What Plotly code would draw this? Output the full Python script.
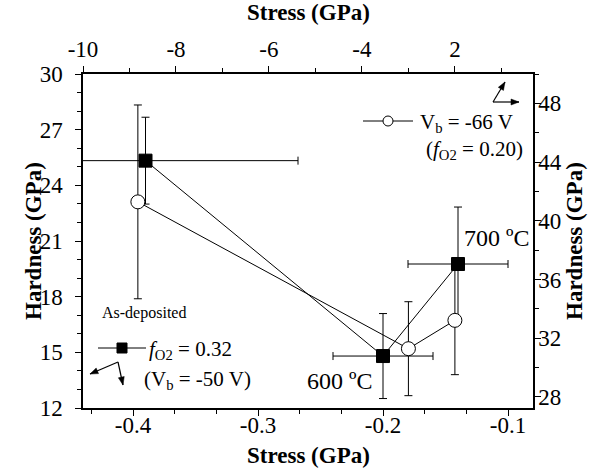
import math
import plotly.graph_objects as go

# Series 1: f_O2 = 0.32 (V_b = -50 V)  -> bottom x (stress), left y (hardness)
stress_a = [-0.39, -0.20, -0.14]
hard_a = [25.33, 14.80, 19.76]
hard_a_err = [2.34, 2.29, 3.07]
stress_a_err = [0.122, 0.04, 0.04]

# Series 2: V_b = -66 V (f_O2 = 0.20) -> top x (stress), right y (hardness)
stress_b = [-8.82, -3.0, -2.0]
hard_b = [41.29, 31.29, 33.22]
hard_b_err = [6.6, 3.2, 3.7]

bottom_ticks = [-0.4, -0.3, -0.2, -0.1]
bottom_ticktext = ["-0.4", "-0.3", "-0.2", "-0.1"]
top_ticks = [-10, -8, -6, -4, -2]
top_ticktext = ["-10", "-8", "-6", "-4", "2"]
left_ticks = [12, 15, 18, 21, 24, 27, 30]
right_ticks = [28, 32, 36, 40, 44, 48]

FONT = "'Liberation Serif', 'Times New Roman', Times, serif"
TICKF = dict(family=FONT, size=23, color="black")
TITLEF = dict(family=FONT, size=23, color="black")

fig = go.Figure()

fig.add_trace(go.Scatter(
    x=stress_a, y=hard_a, mode="lines+markers",
    line=dict(color="black", width=1),
    marker=dict(symbol="square", size=13, color="black", line=dict(color="black", width=1)),
    error_y=dict(type="data", array=hard_a_err, color="black", thickness=1, width=4),
    error_x=dict(type="data", array=stress_a_err, color="black", thickness=1, width=4),
    xaxis="x", yaxis="y", showlegend=False,
))

fig.add_trace(go.Scatter(
    x=stress_b, y=hard_b, mode="lines+markers",
    line=dict(color="black", width=1),
    marker=dict(symbol="circle", size=14, color="white", line=dict(color="black", width=1)),
    error_y=dict(type="data", array=hard_b_err, color="black", thickness=1, width=4),
    xaxis="x2", yaxis="y2", showlegend=False,
))

axis_common = dict(
    showline=True, linecolor="black", linewidth=1.5, ticks="outside", ticklen=6,
    tickwidth=1.2, tickcolor="black", showgrid=False, zeroline=False,
    tickfont=TICKF, automargin=False,
)

fig.update_layout(
    width=604, height=472,
    margin=dict(l=83, r=71, t=74, b=64),
    paper_bgcolor="white", plot_bgcolor="white",
    font=dict(family=FONT, color="black"),
    xaxis=dict(
        range=[-0.44, -0.08], tickmode="array", tickvals=bottom_ticks, ticktext=bottom_ticktext,
        minor=dict(tickmode="linear", tick0=-0.4, dtick=0.1 / 3, ticks="outside", ticklen=4,
                   tickcolor="black", tickwidth=1),
        ticklabelstandoff=-10,
        **axis_common,
    ),
    xaxis2=dict(
        range=[-10, -0.32], overlaying="x", side="top", anchor="y",
        tickmode="array", tickvals=top_ticks, ticktext=top_ticktext,
        minor=dict(tickmode="linear", tick0=0, dtick=1, ticks="outside", ticklen=4,
                   tickcolor="black", tickwidth=1),
        **axis_common,
    ),
    yaxis=dict(
        range=[12, 30], tickmode="array", tickvals=left_ticks,
        minor=dict(tickmode="linear", tick0=0, dtick=1, ticks="outside", ticklen=4,
                   tickcolor="black", tickwidth=1),
        ticklabelstandoff=8,
        **axis_common,
    ),
    yaxis2=dict(
        range=[27.25, 50], overlaying="y", side="right", anchor="x",
        tickmode="array", tickvals=right_ticks,
        minor=dict(tickmode="linear", tick0=0, dtick=2, ticks="outside", ticklen=4,
                   tickcolor="black", tickwidth=1),
        ticklabelstandoff=-7,
        **axis_common,
    ),
)

# helper pixel->paper
def px(x):
    return (x - 83) / 450.0

def py(y):
    return (408 - y) / 334.0

shapes = []
# filled legend sample
shapes.append(dict(type="line", xref="paper", yref="paper", x0=px(98), x1=px(146), y0=py(348), y1=py(348),
                   line=dict(color="black", width=1)))
shapes.append(dict(type="rect", xref="paper", yref="paper", xsizemode="pixel", ysizemode="pixel",
                   xanchor=px(122), yanchor=py(348), x0=-5, x1=5, y0=-5, y1=5,
                   fillcolor="black", line=dict(color="black", width=1)))
# open legend sample
shapes.append(dict(type="line", xref="paper", yref="paper", x0=px(363), x1=px(413), y0=py(121), y1=py(121),
                   line=dict(color="black", width=1)))
shapes.append(dict(type="circle", xref="paper", yref="paper", xsizemode="pixel", ysizemode="pixel",
                   xanchor=px(388), yanchor=py(121), x0=-5, x1=5, y0=-5, y1=5,
                   fillcolor="white", line=dict(color="black", width=1)))


def arrow(tipx, tipy, cx, cy):
    # shaft
    shapes.append(dict(type="line", xref="paper", yref="paper", x0=px(cx), y0=py(cy),
                       x1=px(tipx), y1=py(tipy), line=dict(color="black", width=1.2)))
    # head (pixel offsets relative to tip; y up)
    dx, dy = tipx - cx, -(tipy - cy)
    L = math.hypot(dx, dy)
    ux, uy = dx / L, dy / L
    hl, hw = 8, 3
    bx, by = -ux * hl, -uy * hl
    p1 = (bx - uy * hw, by + ux * hw)
    p2 = (bx + uy * hw, by - ux * hw)
    path = f"M0,0 L{p1[0]:.2f},{p1[1]:.2f} L{p2[0]:.2f},{p2[1]:.2f} Z"
    shapes.append(dict(type="path", xref="paper", yref="paper", xsizemode="pixel", ysizemode="pixel",
                       xanchor=px(tipx), yanchor=py(tipy), path=path,
                       fillcolor="black", line=dict(color="black", width=0.5)))

arrow(90, 374, 118, 362)
arrow(123, 385, 118, 362)
arrow(505, 82, 493, 102)
arrow(519, 102, 493, 102)

fig.update_layout(shapes=shapes)

ann = []
def text(x, y, t, size=21):
    ann.append(dict(xref="paper", yref="paper", x=px(x), y=py(y), text=t, showarrow=False,
                    xanchor="left", yanchor="middle", font=dict(family=FONT, size=size, color="black")))

def title(x, y, t, angle=0):
    ann.append(dict(xref="paper", yref="paper", x=px(x), y=py(y), text=t, showarrow=False,
                    textangle=angle, xanchor="center", yanchor="middle", font=TITLEF))

# axis titles
title(308, 13, "<b>Stress (GPa)</b>")
title(308, 455, "<b>Stress (GPa)</b>")
title(33, 241, "<b>Hardness (GPa)</b>", -90)
title(574, 241, "<b>Hardness (GPa)</b>", -90)

text(100, 313, "As-deposited", 16)
text(147, 350, "<i>f</i><sub>O2</sub> = 0.32")
text(142, 380, "(V<sub>b</sub> = -50 V)")
text(305, 381, "600 ºC", 24)
text(462, 238, "700 ºC", 24)
text(418, 123, "V<sub>b</sub> = -66 V")
text(424, 150, "(<i>f</i><sub>O2</sub> = 0.20)")

fig.update_layout(annotations=ann)

fig.write_html("out.html")
